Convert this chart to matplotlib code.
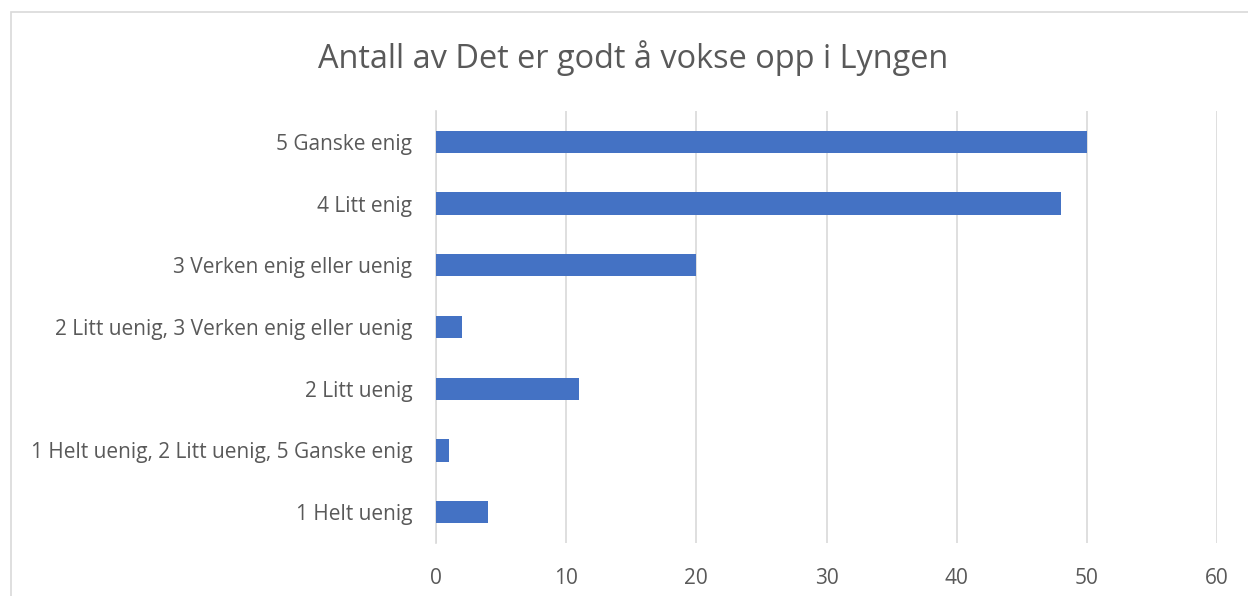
import matplotlib.pyplot as plt
from matplotlib.patches import Rectangle

# data
categories = ["1 Helt uenig",
              "1 Helt uenig, 2 Litt uenig, 5 Ganske enig",
              "2 Litt uenig",
              "2 Litt uenig, 3 Verken enig eller uenig",
              "3 Verken enig eller uenig",
              "4 Litt enig",
              "5 Ganske enig"]
values = [4, 1, 11, 2, 20, 48, 50]
xticks = [0, 10, 20, 30, 40, 50, 60]

plt.rcParams['font.family'] = ['Open Sans', 'DejaVu Sans']

fig = plt.figure(figsize=(12.48, 5.96), dpi=100)
ax = fig.add_axes([436 / 1248, 1 - 543 / 596, (1217 - 436) / 1248, 432 / 596])

# outer chart border
fig.patches.append(Rectangle((11 / 1248, -0.05), 1.2, 1 - 12 / 596 + 0.05,
                             transform=fig.transFigure, fill=False,
                             edgecolor='#d9d9d9', linewidth=1.2))

ax.barh(range(len(categories)), values, height=0.36, color='#4472C4', zorder=3)

ax.set_xlim(0, 60)
ax.set_ylim(-0.5, len(categories) - 0.5)
ax.set_xticks(xticks)
ax.set_yticks(range(len(categories)))
ax.set_yticklabels(categories)
ax.grid(axis='x', color='#d9d9d9', linewidth=1.2, zorder=0)
ax.tick_params(axis='both', length=0, labelsize=15, colors='#595959')
ax.tick_params(axis='x', pad=18)
ax.tick_params(axis='y', pad=17)
for s in ax.spines.values():
    s.set_visible(False)
ax.spines['left'].set_visible(True)
ax.spines['left'].set_color('#d9d9d9')
ax.spines['left'].set_linewidth(1.2)

fig.text(633 / 1248, 1 - 58 / 596, "Antall av Det er godt å vokse opp i Lyngen",
         ha='center', va='center', fontsize=23.4, color='#595959')

plt.savefig("out.png", dpi=100)
